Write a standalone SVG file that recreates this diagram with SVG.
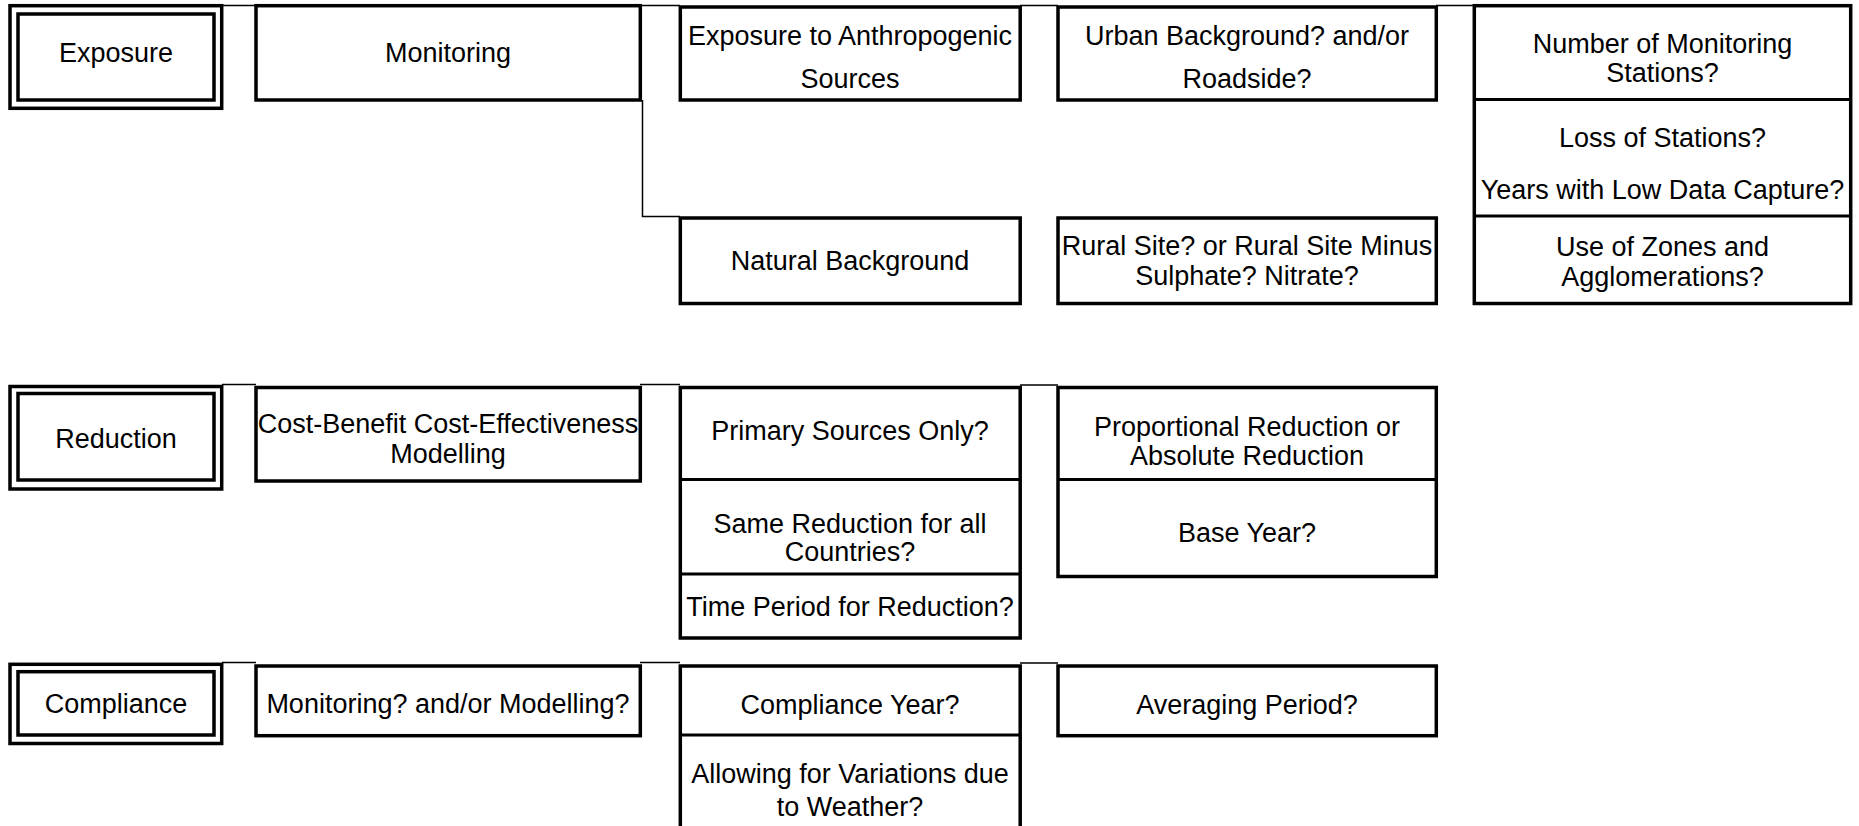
<svg xmlns="http://www.w3.org/2000/svg" width="1859" height="826" viewBox="0 0 1859 826">
<style>
.box{fill:#fff;stroke:#000;stroke-width:3.5}
.dv{stroke:#000;stroke-width:3;fill:none}
.conn{stroke:#000;stroke-width:1.5;fill:none}
text{font-family:"Liberation Sans",Arial,sans-serif;font-size:27px;text-anchor:middle;fill:#000}
</style>
<rect width="1859" height="826" fill="#fff"/>
<g id="connectors">
<path class="conn" d="M222 5.5H256M640 5.5H680M1020 5.5H1058M1436 5.5H1474"/>
<path class="conn" d="M642.5 100V216.5H680"/>
<path class="conn" d="M222 384.5H256M640 384.5H680M1020 385H1058"/>
<path class="conn" d="M222 662.5H256M640 662.5H680M1020 663H1058"/>
</g>
<g id="exposure">
<rect class="box" x="10" y="5.7" width="211.7" height="102.6"/>
<rect class="box" x="18" y="14" width="196" height="86"/>
<text x="116" y="62">Exposure</text>
</g>
<g id="monitoring">
<rect class="box" x="256" y="5.7" width="384.3" height="94.3"/>
<text x="448" y="62">Monitoring</text>
</g>
<g id="anthropogenic">
<rect class="box" x="680.3" y="7" width="339.9" height="93"/>
<text x="850" y="45">Exposure to Anthropogenic</text>
<text x="850" y="88">Sources</text>
</g>
<g id="urban">
<rect class="box" x="1058" y="7" width="378.3" height="93"/>
<text x="1247" y="45">Urban Background? and/or</text>
<text x="1247" y="88">Roadside?</text>
</g>
<g id="stations">
<rect class="box" x="1474.3" y="5.7" width="376.4" height="297.8"/>
<path class="dv" d="M1474.3 99.5H1850.7M1474.3 216H1850.7"/>
<text x="1662.5" y="53">Number of Monitoring</text>
<text x="1662.5" y="82">Stations?</text>
<text x="1662.5" y="147">Loss of Stations?</text>
<text x="1662.5" y="199">Years with Low Data Capture?</text>
<text x="1662.5" y="256">Use of Zones and</text>
<text x="1662.5" y="286">Agglomerations?</text>
</g>
<g id="natural">
<rect class="box" x="680.3" y="218" width="339.9" height="85.5"/>
<text x="850" y="270">Natural Background</text>
</g>
<g id="rural">
<rect class="box" x="1058" y="218" width="378.3" height="85.5"/>
<text x="1247" y="255">Rural Site? or Rural Site Minus</text>
<text x="1247" y="285">Sulphate? Nitrate?</text>
</g>
<g id="reduction">
<rect class="box" x="10" y="386.5" width="211.7" height="102.5"/>
<rect class="box" x="18" y="393.5" width="196" height="86.5"/>
<text x="116" y="448">Reduction</text>
</g>
<g id="costbenefit">
<rect class="box" x="256" y="387.5" width="384.3" height="93.5"/>
<text x="448" y="433">Cost-Benefit Cost-Effectiveness</text>
<text x="448" y="463">Modelling</text>
</g>
<g id="primary">
<rect class="box" x="680.3" y="387.5" width="339.9" height="250.5"/>
<path class="dv" d="M680.3 479.5H1020.2M680.3 574H1020.2"/>
<text x="850" y="440">Primary Sources Only?</text>
<text x="850" y="533">Same Reduction for all</text>
<text x="850" y="561">Countries?</text>
<text x="850" y="616">Time Period for Reduction?</text>
</g>
<g id="proportional">
<rect class="box" x="1058" y="387.5" width="378.3" height="189"/>
<path class="dv" d="M1058 479.5H1436.3"/>
<text x="1247" y="436">Proportional Reduction or</text>
<text x="1247" y="465">Absolute Reduction</text>
<text x="1247" y="542">Base Year?</text>
</g>
<g id="compliance">
<rect class="box" x="10" y="664.3" width="211.7" height="79.2"/>
<rect class="box" x="18" y="671.7" width="196" height="63.3"/>
<text x="116" y="713">Compliance</text>
</g>
<g id="monmod">
<rect class="box" x="256" y="666" width="384.3" height="69.7"/>
<text x="448" y="713">Monitoring? and/or Modelling?</text>
</g>
<g id="complianceyear">
<rect class="box" x="680.3" y="666" width="339.9" height="170"/>
<path class="dv" d="M680.3 735H1020.2"/>
<text x="850" y="714">Compliance Year?</text>
<text x="850" y="783">Allowing for Variations due</text>
<text x="850" y="816">to Weather?</text>
</g>
<g id="averaging">
<rect class="box" x="1058" y="666" width="378.3" height="69.7"/>
<text x="1247" y="714">Averaging Period?</text>
</g>
</svg>
